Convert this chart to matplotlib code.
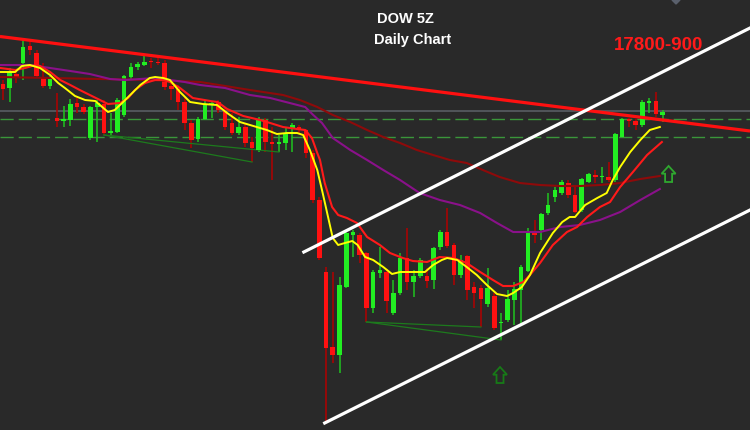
import matplotlib
matplotlib.use("Agg")
import matplotlib.pyplot as plt
from matplotlib.patches import Polygon
import numpy as np

# ---------------- data (chart units: vertical level, axis inverted) ----------------
opens = [84, 88, 74, 63, 46, 53, 77, 86, 118, 121, 120, 103, 107, 138, 107, 104, 133, 132, 115, 77,
         67, 65, 61, 62, 63, 86, 89, 102, 123, 139, 119, 104.5, 102, 111, 123, 133, 127, 142, 150, 120,
         142, 144, 143, 128, 127, 130, 153, 200, 272, 347, 355, 287, 235, 235, 253, 308, 273, 272, 313, 293,
         258, 282, 276, 276, 280, 247, 232, 245, 275, 256, 287, 288, 304, 296, 323, 320, 300, 290, 271, 232,
         230, 213, 197, 193, 183, 195, 210, 182, 175, 177, 177, 180, 137, 119, 121, 125, 103, 101, 115]
highs = [80, 68, 70, 40, 42, 50, 63, 76, 93, 106, 99, 98, 104, 106, 100, 100, 113, 98, 75, 63,
         62, 56, 58, 58, 60, 84, 85, 98, 120, 117, 101, 102, 100, 108, 113, 117, 123, 137, 117, 118,
         127, 135, 127, 123, 125, 129, 150, 197, 267, 272, 277, 230, 230, 233, 252, 270, 247, 270, 280, 253,
         228, 270, 258, 268, 247, 230, 208, 243, 255, 255, 282, 285, 268, 293, 313, 290, 282, 265, 228, 220,
         213, 193, 187, 180, 180, 187, 178, 173, 170, 167, 162, 133, 118, 118, 119, 100, 98, 92, 110]
lows = [100, 102, 83, 80, 55, 78, 88, 89, 127, 127, 126, 113, 114, 140, 142, 135, 135, 133, 117, 80,
        70, 66, 68, 65, 90, 100, 110, 130, 148, 142, 120, 118, 113, 130, 135, 135, 147, 162, 152, 152,
        180, 152, 150, 152, 133, 158, 203, 260, 423, 363, 373, 288, 257, 263, 322, 313, 278, 313, 315, 295,
        290, 297, 278, 288, 289, 250, 248, 285, 278, 300, 308, 327, 307, 330, 340, 322, 325, 325, 272, 243,
        240, 215, 202, 195, 198, 213, 212, 183, 183, 183, 182, 182, 137, 127, 130, 127, 113, 117, 122]
closes = [89, 72, 78, 47, 50, 76, 86, 77, 121, 119, 104, 107, 112, 107, 103, 133, 131, 100, 76, 67,
          64, 62, 62, 63, 87, 89, 102, 123, 140, 119, 104, 103, 110, 127, 133, 127, 143, 148, 120, 142,
          144, 142, 133, 125, 130, 153, 200, 258, 348, 355, 285, 233, 232, 255, 308, 272, 270, 301, 293, 258,
          282, 276, 260, 281, 248, 232, 246, 275, 260, 290, 293, 299, 288, 328, 322, 299, 289, 267, 231, 235,
          214, 205, 190, 182, 195, 212, 179, 174, 177, 176, 180, 134, 119, 121, 125, 102, 101, 114, 112]

# moving averages (bar position, level)
fast_ma_x = [-0.4, 1.8, 2.8, 4.0, 5.5, 7.0, 8.2, 9.2, 10.7, 12.2, 13.7, 14.4, 15.6, 16.6, 17.7, 18.9, 20.4, 21.8,
             22.6, 23.8, 24.8, 26.3, 27.8, 29.7, 31.8, 33.3, 35.2, 36.7, 38.2, 39.2, 40.7, 42.2, 43.7, 44.6,
             45.6, 46.7, 47.5, 48.3, 49.0, 49.8, 50.8, 51.9, 52.7, 53.8, 55.0, 56.5, 57.8, 59.0, 60.9, 62.7,
             63.9, 65.2, 66.0, 67.5, 68.9, 70.4, 71.9, 73.4, 74.9, 75.8, 77.1, 78.3, 79.8, 81.7, 83.1, 84.2,
             85.0, 86.5, 88.3, 89.7, 90.6, 91.7, 93.2, 94.7, 96.1, 97.6]
fast_ma_y = [72, 72, 66, 65, 68, 75, 83, 88, 96, 100, 101, 105, 112, 110, 103, 95, 85, 78, 77, 78,
             80, 92, 102, 104, 105, 113, 122, 125, 128, 130, 134, 133, 133, 135, 150, 170, 193, 217, 238, 245,
             243, 241, 245, 257, 260, 267, 274, 272, 272, 272, 265, 260, 258, 260, 267, 275, 285, 294, 296, 293,
             287, 275, 253, 233, 222, 217, 217, 205, 198, 193, 180, 167, 152, 140, 130, 127]

mid_ma_x = [-0.4, 1.8, 3.3, 4.8, 5.5, 7.0, 8.5, 10.0, 11.4, 12.9, 14.4, 15.6, 17.4, 18.6, 19.6, 21.1, 22.6,
            23.8, 24.8, 26.3, 28.2, 30.8, 31.9, 33.3, 35.7, 38.2, 39.7, 41.6, 43.7, 44.9, 45.9, 46.7, 47.1,
            47.8, 48.9, 49.8, 51.1, 52.6, 54.1, 56.0, 57.5, 59.4, 60.9, 63.0, 64.9, 66.9, 68.9, 70.9, 72.8,
            74.3, 75.8, 77.3, 78.3, 79.8, 81.7, 83.8, 85.3, 86.8, 88.7, 90.2, 91.7, 93.6, 95.7, 97.9]
mid_ma_y = [68, 70, 68, 65, 66, 72, 80, 85, 90, 95, 100, 104, 103, 98, 90, 83, 80, 80, 82, 88,
            98, 101, 102, 109, 116, 120, 123, 127, 129, 130, 138, 153, 160, 183, 207, 215, 218, 223, 237, 245,
            253, 258, 261, 262, 257, 258, 263, 272, 280, 286, 286, 282, 275, 263, 245, 232, 227, 217, 207, 202,
            187, 172, 155, 142]

slow_ma_x = [-0.4, 4.0, 10.0, 12.9, 15.9, 18.1, 20.4, 22.6, 24.8, 27.0, 29.3, 33.0, 36.7, 39.7, 42.6, 44.9,
             46.1, 47.4, 49.0, 51.6, 54.1, 56.5, 59.0, 61.9, 64.9, 67.9, 70.9, 73.4, 75.8, 77.9, 79.8, 82.8,
             85.7, 88.7, 91.7, 94.7, 97.6]
slow_ma_y = [65, 65, 71, 74, 79, 80, 79, 78, 80, 82, 85, 88, 95, 98, 103, 107,
             115, 123, 138, 150, 160, 170, 180, 193, 200, 205, 213, 223, 232, 232, 232, 227,
             225, 220, 212, 200, 189]

long_ma_x = [-0.4, 7.0, 14.4, 21.8, 29.3, 36.7, 41.6, 44.1, 46.7, 49.0, 51.6, 54.1, 56.5, 59.0, 61.5, 63.9,
             66.4, 68.9, 71.3, 73.8, 76.8, 79.8, 82.8, 85.7, 88.7, 91.7, 94.7, 97.6]
long_ma_y = [77, 78, 79, 80, 82, 90, 95, 100, 107, 115, 122, 130, 137, 143, 150, 155,
             160, 163, 170, 177, 183, 185, 186, 186, 185, 183, 179, 176]

# drawn analysis lines (bar position, level)
resistance_x = [-0.45, 111.0]
resistance_y = [36.5, 131]
channel_top_x = [44.7, 111.0]
channel_top_y = [252, 28]
channel_bot_x = [47.8, 111.0]
channel_bot_y = [423, 210]
level_gray = 111
level_dash = [119, 137]
divergence_pairs = [(15, 41), (15, 37), (54, 71), (54, 74)]

# ---------------- figure ----------------
BG = "#292929"
fig = plt.figure(figsize=(7.5, 4.3), dpi=100)
fig.patch.set_facecolor(BG)
ax = fig.add_axes([0, 0, 1, 1])
ax.set_facecolor(BG)
ax.set_xlim(-3 / 6.73, 747 / 6.73)
ax.set_ylim(430, 0)
ax.axis("off")

# horizontal levels
ax.axhline(level_gray, color="#55595f", lw=1.3, zorder=1)
for lv in level_dash:
    ax.axhline(lv, color="#3a963a", lw=1.0, dashes=(9.5, 3.6), zorder=1)

# candles
o = np.array(opens, float)
h = np.array(highs, float)
l = np.array(lows, float)
c = np.array(closes, float)
idx = np.arange(len(o))
up = c <= o  # level axis inverted: smaller value = higher price
body_col = np.where(up, "#22ee22", "#ff1111")
wick_col = np.where(up, "#1fc41f", "#b30000")
ax.vlines(idx, h, l, colors=wick_col, lw=1.1, zorder=2)
bottom = np.minimum(o, c)
height = np.maximum(np.abs(c - o), 1.3)
ax.bar(idx, height, bottom=bottom, width=0.68, color=body_col, linewidth=0, zorder=3)

# divergence lines (connect candle lows)
for a, b in divergence_pairs:
    ax.plot([a, b], [l[a], l[b]], color="#1d7a1d", lw=0.9, zorder=2.5)

# moving averages
ax.plot(long_ma_x, long_ma_y, color="#8e0a0a", lw=1.5, zorder=4)
ax.plot(slow_ma_x, slow_ma_y, color="#8a118a", lw=1.5, zorder=4)
ax.plot(mid_ma_x, mid_ma_y, color="#ff1a1a", lw=1.5, zorder=4.2)
ax.plot(fast_ma_x, fast_ma_y, color="#ffff00", lw=1.4, zorder=4.4)

# trend lines
ax.plot(resistance_x, resistance_y, color="#ff1010", lw=2.3, zorder=5, solid_capstyle="butt")
ax.plot(channel_top_x, channel_top_y, color="#ffffff", lw=2.3, zorder=5)
ax.plot(channel_bot_x, channel_bot_y, color="#ffffff", lw=2.3, zorder=5)

# hollow up arrows
def up_arrow(xc, ytip, col):
    hw, sw = 1.04, 0.52
    pts = [(xc, ytip), (xc + hw, ytip + 7.7), (xc + sw, ytip + 7.7), (xc + sw, ytip + 16),
           (xc - sw, ytip + 16), (xc - sw, ytip + 7.7), (xc - hw, ytip + 7.7)]
    ax.add_patch(Polygon(pts, closed=True, fill=False, edgecolor=col, lw=1.3, zorder=6))

up_arrow(98.9, 166, "#2fa82f")
up_arrow(73.85, 367, "#177a17")

# small marker at top
fig.patches.append(Polygon([(672 / 750, 1.0), (680 / 750, 1.0), (676 / 750, 1 - 4 / 430)],
                           closed=True, transform=fig.transFigure, color="#5a606c"))

# texts
fam = ["Liberation Sans", "DejaVu Sans"]
fig.text(405 / 750, 1 - 19 / 430, "DOW 5Z", color="white", fontsize=10.5, fontweight="bold",
         family=fam, ha="center", va="center")
fig.text(413 / 750, 1 - 40 / 430, "Daily Chart", color="white", fontsize=10.5, fontweight="bold",
         family=fam, ha="center", va="center")
fig.text(659 / 750, 1 - 45.5 / 430, "17800-900", color="#ff1a1a", fontsize=13.5, fontweight="bold",
         family=fam, ha="center", va="center")

fig.savefig("out.png", dpi=100, facecolor=BG)
